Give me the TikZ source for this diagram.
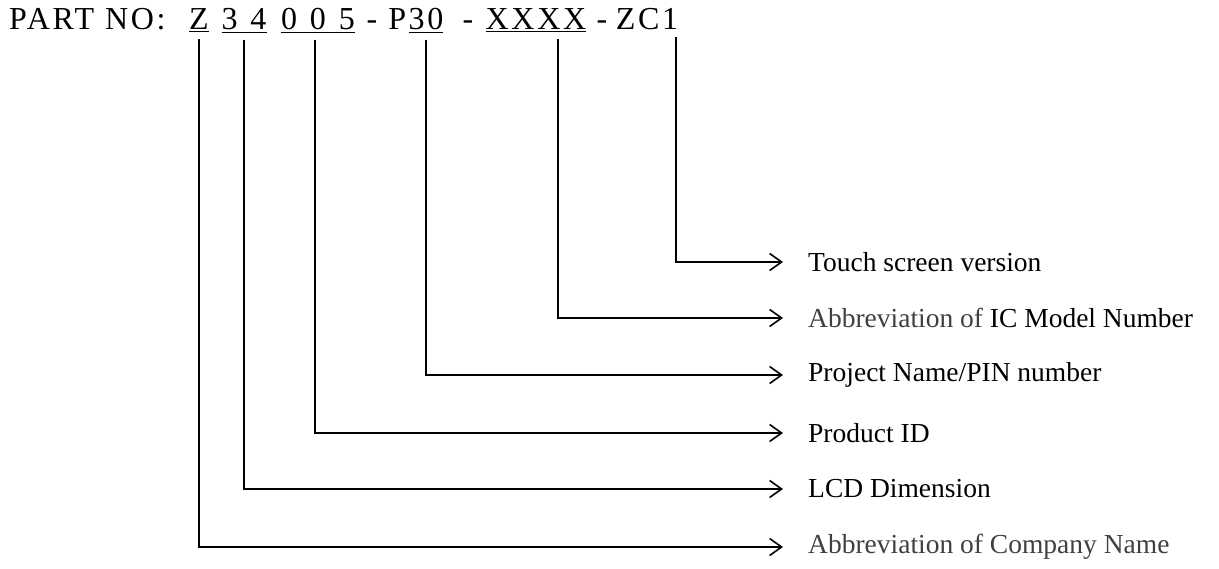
\documentclass[tikz,border=0pt]{standalone}
\usepackage{fontspec}
\setmainfont{Liberation Serif}
\newfontfamily\partfont[LetterSpace=8.5]{Liberation Serif}
\usetikzlibrary{positioning, arrows.meta}
\definecolor{labelgray}{RGB}{64,64,64}
\newcommand{\digitgap}{\hspace{13pt}}

\tikzset{
  part/.style={inner sep=0pt, anchor=base, font=\partfont\fontsize{32}{38}\selectfont},
  head/.style={part, anchor=base west},
  lbl/.style={inner sep=0pt, anchor=west, font=\fontsize{27.5}{33}\selectfont},
  link/.style={line width=1.6pt, -{Straight Barb[length=12pt,width=17pt]},
    shorten <=7pt, shorten >=25pt},
}

\begin{document}
\begin{tikzpicture}[x=1pt, y=-1pt]
    \useasboundingbox (0,0) rectangle (1219,569);
    % part number, piece by piece
    \node (title) [head] at (9,30) {PART NO:};
    \node (comp) [part] at (199,30) {\underline{Z}};
    \node (lcd) [part] at (244,30) {\underline{3\digitgap4}};
    \node (prod) [part] at (318,30) {\underline{0\digitgap0\digitgap5}};
    \node (dasha) [part] at (372,30) {-};
    \node (proj) [part] at (426,30) {\underline{30}};
    \node (pfix) [part, anchor=base east] at ([xshift=-2pt]proj.base west) {P};
    \node (dashb) [part] at (468,30) {-};
    \node (ic) [part] at (536,30) {\underline{XXXX}};
    \node (dashc) [part] at (602,30) {-};
    \node (touch) [part] at (670,30) {1};
    \node (zfix) [part, anchor=base east] at ([xshift=-2pt]touch.base west) {ZC};
    % meanings
    \node (ltouch) [lbl] at (808,262) {Touch screen version};
    \node (lic) [lbl] at (808,318) {\textcolor{labelgray}{Abbreviation of} IC Model Number};
    \node (lproj) [lbl] at (808,375) {Project Name/PIN number};
    \node (lprod) [lbl] at (808,433) {Product ID};
    \node (llcd) [lbl] at (808,489) {LCD Dimension};
    \node (lcomp) [lbl, text=labelgray] at (808,547) {Abbreviation of Company Name};
    \draw [link] ([xshift=6pt]touch.south) |- (ltouch.west);
    \draw [link] ([xshift=22pt]ic.south) |- (lic.west);
    \draw [link] (proj.south) |- (lproj.west);
    \draw [link] ([xshift=-3pt]prod.south) |- (lprod.west);
    \draw [link] (lcd.south) |- (llcd.west);
    \draw [link] (comp.south) |- (lcomp.west);
\end{tikzpicture}
\end{document}
